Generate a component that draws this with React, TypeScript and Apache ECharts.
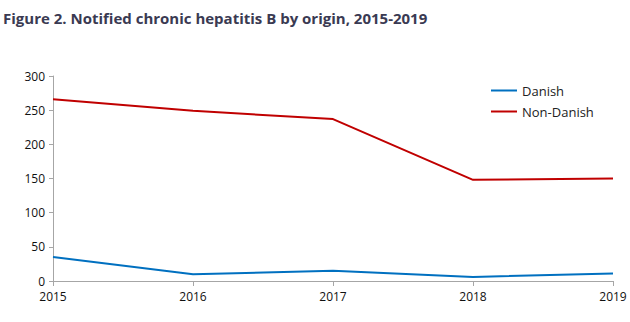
import React, { useEffect, useRef } from "react";
import * as echarts from "echarts";

const years = ["2015", "2016", "2017", "2018", "2019"];
const danish = [35, 10, 15, 6, 11];
const nonDanish = [266, 249, 237, 148, 150];
const titleText = "Figure 2. Notified chronic hepatitis B by origin, 2015-2019";

export default function App() {
  const ref = useRef<HTMLDivElement>(null);
  useEffect(() => {
    if (!ref.current) return;
    const chart = echarts.init(ref.current, undefined, { renderer: "svg" });
    const font = "'Open Sans', 'DejaVu Sans', sans-serif";
    chart.setOption({
      animation: false,
      backgroundColor: "#ffffff",
      title: {
        text: titleText,
        left: -2,
        top: 5,
        textStyle: { fontFamily: font, fontSize: 15, fontWeight: "bold", color: "#3a3a52" },
      },
      legend: {
        orient: "vertical",
        left: 486,
        top: 79,
        itemWidth: 26,
        itemHeight: 2,
        itemGap: 8,
        icon: "rect",
        textStyle: { fontFamily: font, fontSize: 13, color: "#222" },
        data: ["Danish", "Non-Danish"],
      },
      grid: { left: 53, right: 17, top: 76, bottom: 41, containLabel: false },
      xAxis: {
        type: "category",
        data: years,
        boundaryGap: false,
        axisLine: { lineStyle: { color: "#a6a6a6" } },
        axisTick: { show: true, alignWithLabel: true, length: 5, lineStyle: { color: "#a6a6a6" } },
        axisLabel: { fontFamily: font, fontSize: 12, color: "#111", margin: 9 },
      },
      yAxis: {
        type: "value",
        min: 0,
        max: 300,
        interval: 50,
        splitLine: { show: false },
        axisLine: { show: true, lineStyle: { color: "#a6a6a6" } },
        axisTick: { show: true, length: 4, lineStyle: { color: "#a6a6a6" } },
        axisLabel: { fontFamily: font, fontSize: 12, color: "#111", margin: 8 },
      },
      series: [
        {
          name: "Danish",
          type: "line",
          data: danish,
          symbol: "none",
          lineStyle: { color: "#0070c0", width: 2 },
          itemStyle: { color: "#0070c0" },
        },
        {
          name: "Non-Danish",
          type: "line",
          data: nonDanish,
          symbol: "none",
          lineStyle: { color: "#c00000", width: 2 },
          itemStyle: { color: "#c00000" },
        },
      ],
    });
    return () => chart.dispose();
  }, []);
  return (
    <div
      ref={ref}
      style={{ position: "fixed", left: 0, top: 0, width: 630, height: 322 }}
    />
  );
}
